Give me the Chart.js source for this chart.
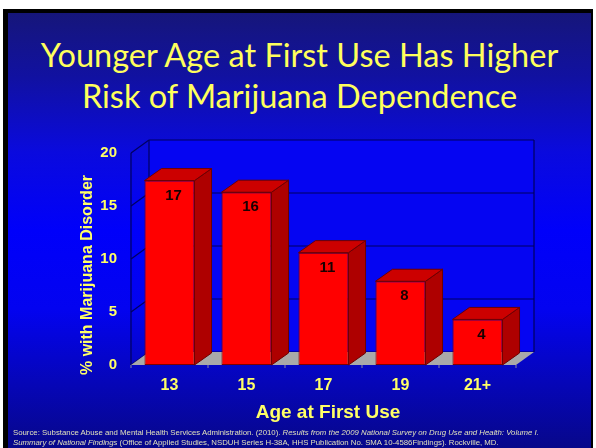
<!DOCTYPE html>
<html>
<head>
<meta charset="utf-8">
<script src="https://cdn.jsdelivr.net/npm/chart.js@4.4.1/dist/chart.umd.min.js"></script>
<style>
  html, body { margin: 0; padding: 0; background: #fff; }
  #page { position: relative; width: 596px; height: 448px; overflow: hidden; background: #fff; }
  .frame { position: absolute; left: 3px; top: 9px; width: 590px; height: 439px; background: #000; }
  .slide {
    position: absolute; left: 8px; top: 13px; width: 583px; height: 435px;
    background: linear-gradient(to bottom, #16167a 0%, #1111a2 15%, #0a0ade 32%, #0000fa 50%, #0303f0 68%, #0606b8 85%, #07078a 100%);
  }
  .title {
    position: absolute; left: 8px; width: 583px; top: 33.5px;
    text-align: center; color: #ffff5c; font-family: Lato, "Open Sans", sans-serif;
    font-size: 32.5px; line-height: 41px;
  }
  #chartBox { position: absolute; left: 0; top: 0; width: 596px; height: 448px; }
  .source {
    position: absolute; left: 13px; top: 428px; width: 578px;
    color: #e0e0bc; font-family: "Liberation Sans", Arial, sans-serif;
    font-size: 7.8px; line-height: 9.5px; white-space: nowrap;
  }
</style>
</head>
<body>
<div id="page">
  <div class="frame"></div>
  <div class="slide"></div>
  <div class="title">Younger Age at First Use Has Higher<br>Risk of Marijuana Dependence</div>
  <div id="chartBox"><canvas id="ageChart" width="596" height="448"></canvas></div>
  <div class="source">
    Source: Substance Abuse and Mental Health Services Administration. (2010). <i>Results from the 2009 National Survey on Drug Use and Health: Volume I.</i><br>
    <i>Summary of National Findings</i> (Office of Applied Studies, NSDUH Series H-38A, HHS Publication No. SMA 10-4586Findings). Rockville, MD.
  </div>
</div>
<script>
// data
const ages = ['13', '15', '17', '19', '21+'];
const pctDisorder = [17.4, 16.3, 10.6, 7.9, 4.3];
const valueLabels = ['17', '16', '11', '8', '4'];
const yTicks = [0, 5, 10, 15, 20];

const yTitle = '% with Marijuana Disorder';
const xTitle = 'Age at First Use';

// depth of the back wall and of the bars
const DX = 18, DY = -13;
const BX = 17, BY = -12;

const yellow = '#ffff66';

function line(ctx, x1, y1, x2, y2) {
    ctx.beginPath();
    ctx.moveTo(x1, y1);
    ctx.lineTo(x2, y2);
    ctx.stroke();
}

function poly(ctx, pts, fill, stroke) {
    ctx.beginPath();
    ctx.moveTo(pts[0][0], pts[0][1]);
    for (let i = 1; i < pts.length; i++) ctx.lineTo(pts[i][0], pts[i][1]);
    ctx.closePath();
    ctx.fillStyle = fill;
    ctx.fill();
    if (stroke) {
        ctx.strokeStyle = stroke;
        ctx.lineWidth = 1;
        ctx.stroke();
    }
}

const threeD = {
    id: 'threeD',
    beforeDatasetsDraw(chart) {
        const ctx = chart.ctx;
        const a = chart.chartArea;
        const y = chart.scales.y;
        const x = chart.scales.x;
        ctx.save();
        // back wall
        ctx.fillStyle = '#0505f2';
        ctx.fillRect(a.left + DX, a.top + DY, a.right - a.left, a.bottom - a.top);
        ctx.strokeStyle = '#00005e';
        ctx.lineWidth = 1.2;
        yTicks.forEach(v => {
            const py = y.getPixelForValue(v);
            line(ctx, a.left, py, a.left + DX, py + DY);
            line(ctx, a.left + DX, py + DY, a.right + DX, py + DY);
        });
        line(ctx, a.left + DX, a.top + DY, a.left + DX, a.bottom + DY);
        line(ctx, a.right + DX, a.top + DY, a.right + DX, a.bottom + DY);
        line(ctx, a.left, a.top, a.left, a.bottom);
        // floor
        poly(ctx, [[a.left, a.bottom], [a.right, a.bottom], [a.right + DX, a.bottom + DY], [a.left + DX, a.bottom + DY]], '#a9a9a9');
        // small marks between categories
        ctx.strokeStyle = '#8a8aa0';
        ctx.lineWidth = 1;
        for (let i = 0; i <= ages.length; i++) {
            const px = x.getPixelForValue(i - 0.5);
            line(ctx, px, a.bottom, px, a.bottom + 3);
        }
        ctx.restore();
    },
    afterDatasetsDraw(chart) {
        const ctx = chart.ctx;
        const meta = chart.getDatasetMeta(0);
        ctx.save();
        meta.data.forEach((bar, i) => {
            const p = bar.getProps(['x', 'y', 'base', 'width'], true);
            const l = p.x - p.width / 2, r = p.x + p.width / 2;
            poly(ctx, [[r, p.y], [r + BX, p.y + BY], [r + BX, p.base + BY], [r, p.base]], '#ae0000', '#6e0000');
            poly(ctx, [[l, p.y], [l + BX, p.y + BY], [r + BX, p.y + BY], [r, p.y]], '#cc0000', '#6e0000');
            ctx.fillStyle = '#1a0000';
            ctx.font = 'bold 15px "Liberation Sans", Arial, sans-serif';
            ctx.textAlign = 'center';
            ctx.textBaseline = 'middle';
            ctx.fillText(valueLabels[i], p.x + 4, p.y + 15);
        });
        ctx.restore();
    },
    afterDraw(chart) {
        const ctx = chart.ctx;
        ctx.save();
        ctx.fillStyle = yellow;
        ctx.textAlign = 'center';
        ctx.textBaseline = 'middle';
        ctx.font = 'bold 16px "Liberation Sans", Arial, sans-serif';
        ctx.translate(88, 275);
        ctx.rotate(-Math.PI / 2);
        ctx.fillText(yTitle, 0, 0);
        ctx.restore();
        ctx.save();
        ctx.fillStyle = yellow;
        ctx.textAlign = 'center';
        ctx.textBaseline = 'middle';
        ctx.font = 'bold 19px "Liberation Sans", Arial, sans-serif';
        ctx.fillText(xTitle, 328, 413);
        ctx.restore();
    }
};

const ctx = document.getElementById('ageChart').getContext('2d');
const ageChart = new Chart(ctx, {
    type: 'bar',
    data: {
        labels: ages,
        datasets: [{
            label: yTitle,
            data: pctDisorder,
            backgroundColor: '#ff0000',
            borderColor: '#7a0000',
            borderWidth: 1,
            borderSkipped: false,
            barPercentage: 0.65,
            categoryPercentage: 1
        }]
    },
    options: {
        responsive: false,
        animation: false,
        devicePixelRatio: 1,
        layout: {
            padding: { left: 60, right: 80, top: 153, bottom: 0 }
        },
        plugins: {
            legend: { display: false },
            tooltip: { enabled: false }
        },
        scales: {
            x: {
                grid: { display: false, drawTicks: false },
                border: { display: false },
                ticks: {
                    color: yellow,
                    padding: 11,
                    font: { family: '"Liberation Sans", Arial, sans-serif', size: 16, weight: 'bold' }
                },
                afterFit(scale) { scale.height = 83; }
            },
            y: {
                min: 0,
                max: 20,
                grid: { display: false, drawTicks: false },
                border: { display: false },
                ticks: {
                    stepSize: 5,
                    color: yellow,
                    padding: 14,
                    font: { family: '"Liberation Sans", Arial, sans-serif', size: 15, weight: 'bold' }
                },
                afterFit(scale) { scale.width = 71; }
            }
        }
    },
    plugins: [threeD]
});
</script>
</body>
</html>
